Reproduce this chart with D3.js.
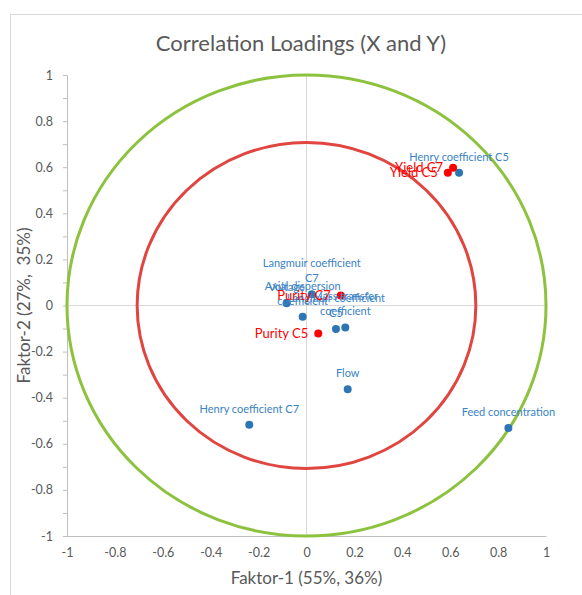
<!DOCTYPE html>
<html>
<head>
<meta charset="utf-8">
<script src="https://cdn.jsdelivr.net/npm/d3@7"></script>
<style>
    body { margin: 0; background: #fff; }
    text { font-family: Lato, 'Open Sans', sans-serif; }
</style>
</head>
<body>
<svg id="chart"></svg>
<script>
// chart data
const chartTitle = 'Correlation Loadings (X and Y)';
const xAxisTitle = 'Faktor-1 (55%, 36%)';
const yAxisTitle = 'Faktor-2 (27%,  35%)';
const xTickValues = [-1, -0.8, -0.6, -0.4, -0.2, 0, 0.2, 0.4, 0.6, 0.8, 1];
const yTickValues = [-1, -0.8, -0.6, -0.4, -0.2, 0, 0.2, 0.4, 0.6, 0.8, 1];
const circleRadii = [1, Math.sqrt(0.5)];

// X variables (blue)
const xNames = [
    'Henry coefficient C5',
    'Langmuir coefficient\nC7',
    'Voltage',
    'Axial dispersion\ncoefficient',
    'Langmuir coefficient\nC5',
    'Mass transfer\ncoefficient',
    'Flow',
    'Henry coefficient C7',
    'Feed concentration',
];
const xFactor1 = [0.637, 0.022, -0.083, -0.016, 0.123, 0.162, 0.172, -0.239, 0.843];
const xFactor2 = [0.576, 0.049, 0.010, -0.049, -0.102, -0.095, -0.363, -0.517, -0.531];

// Y variables (red)
const yNames = ['Yield C7', 'Yield C5', 'Purity C7', 'Purity C5'];
const yFactor1 = [0.612, 0.590, 0.143, 0.049];
const yFactor2 = [0.598, 0.576, 0.043, -0.121];

const width = 582;
const height = 595;
const margin = { top: 75, right: 36, bottom: 59, left: 67 };

const svg = d3.select('#chart').attr('width', width).attr('height', height);

// plain hyphen-minus like the original
const fmt = d => String(+d.toFixed(1));

// chart frame
svg.append('rect')
    .attr('x', 10.5).attr('y', 14.5)
    .attr('width', 620).attr('height', 620)
    .attr('fill', 'none')
    .attr('stroke', '#d9d9d9');

const xScale = d3.scaleLinear().domain([-1, 1]).range([margin.left, width - margin.right]);
const yScale = d3.scaleLinear().domain([-1, 1]).range([height - margin.bottom, margin.top]);

// zero lines
svg.append('line')
    .attr('x1', xScale(-1)).attr('x2', xScale(1))
    .attr('y1', yScale(0)).attr('y2', yScale(0))
    .attr('stroke', '#d9d9d9');
svg.append('line')
    .attr('x1', xScale(0)).attr('x2', xScale(0))
    .attr('y1', yScale(-1)).attr('y2', yScale(1))
    .attr('stroke', '#d9d9d9');

// x axis
const xAxis = svg.append('g')
    .attr('transform', `translate(0, ${yScale(-1)})`)
    .call(d3.axisBottom(xScale).tickValues(xTickValues).tickSize(0).tickPadding(12)
        .tickFormat(fmt));
xAxis.select('.domain').attr('stroke', '#bfbfbf');
xAxis.selectAll('text').attr('fill', '#595959').attr('font-size', 12.5);

// y axis: labels every 0.2, tick marks every 0.1
const yAxis = svg.append('g')
    .attr('transform', `translate(${xScale(-1)}, 0)`)
    .call(d3.axisLeft(yScale).ticks(20).tickSize(4).tickPadding(10)
        .tickFormat(d => (yTickValues.some(v => Math.abs(v - d) < 1e-9) ? fmt(d) : '')));
yAxis.select('.domain').attr('stroke', '#bfbfbf');
yAxis.selectAll('.tick line').attr('stroke', '#bfbfbf');
yAxis.selectAll('text').attr('fill', '#595959').attr('font-size', 12.5);

// circles
const circleColors = ['#8dc23f', '#e0453f'];
svg.selectAll('ellipse.ring')
    .data(circleRadii)
    .join('ellipse')
    .attr('class', 'ring')
    .attr('cx', xScale(0))
    .attr('cy', yScale(0))
    .attr('rx', r => xScale(r) - xScale(0))
    .attr('ry', r => yScale(0) - yScale(r))
    .attr('fill', 'none')
    .attr('stroke', (r, i) => circleColors[i])
    .attr('stroke-width', 3);

const xPoints = xNames.map((name, i) => ({ name, f1: xFactor1[i], f2: xFactor2[i] }));
const yPoints = yNames.map((name, i) => ({ name, f1: yFactor1[i], f2: yFactor2[i] }));

svg.append('g').selectAll('circle')
    .data(xPoints)
    .join('circle')
    .attr('cx', d => xScale(d.f1))
    .attr('cy', d => yScale(d.f2))
    .attr('r', 4)
    .attr('fill', '#2e75b6');

svg.append('g').selectAll('circle')
    .data(yPoints)
    .join('circle')
    .attr('cx', d => xScale(d.f1))
    .attr('cy', d => yScale(d.f2))
    .attr('r', 4)
    .attr('fill', '#ff0000');

// labels: X above point, Y to the left
const lineHeight = 15;
svg.append('g').selectAll('text')
    .data(xPoints)
    .join('text')
    .attr('text-anchor', 'middle')
    .attr('font-size', 11)
    .attr('fill', '#3a83c4')
    .each(function (d) {
        const lines = d.name.split('\n');
        const t = d3.select(this);
        lines.forEach((line, k) => {
            t.append('tspan')
                .attr('x', xScale(d.f1))
                .attr('y', yScale(d.f2) - 12 - (lines.length - 1 - k) * lineHeight)
                .text(line);
        });
    });

svg.append('g').selectAll('text')
    .data(yPoints)
    .join('text')
    .attr('text-anchor', 'end')
    .attr('font-size', 13)
    .attr('fill', '#ff0000')
    .attr('x', d => xScale(d.f1) - 10)
    .attr('y', d => yScale(d.f2) + 4.5)
    .text(d => d.name);

// titles
svg.append('text')
    .attr('x', 301).attr('y', 51)
    .attr('text-anchor', 'middle')
    .attr('font-size', 22)
    .attr('fill', '#595959')
    .text(chartTitle);

svg.append('text')
    .attr('x', xScale(0)).attr('y', 584)
    .attr('text-anchor', 'middle')
    .attr('font-size', 17)
    .attr('fill', '#595959')
    .text(xAxisTitle);

svg.append('text')
    .attr('transform', `translate(30, ${yScale(0)}) rotate(-90)`)
    .attr('text-anchor', 'middle')
    .attr('font-size', 17)
    .attr('fill', '#595959')
    .style('white-space', 'pre')
    .text(yAxisTitle);
</script>
</body>
</html>
